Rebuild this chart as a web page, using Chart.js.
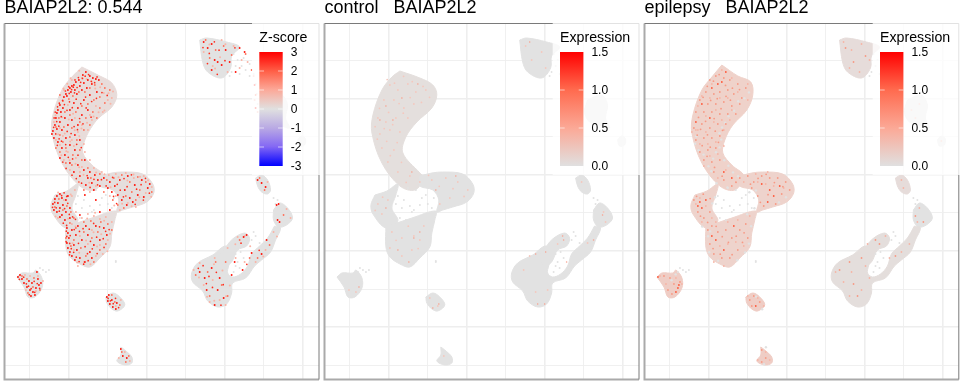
<!DOCTYPE html>
<html>
<head>
<meta charset="utf-8">
<style>
  body { margin: 0; background: #fff; }
  canvas { position: absolute; top: 0; }
</style>
<script src="https://cdn.jsdelivr.net/npm/chart.js"></script>
</head>
<body>
<canvas id="panel1" width="320" height="384" style="left:0"></canvas>
<canvas id="panel2" width="320" height="384" style="left:320px"></canvas>
<canvas id="panel3" width="320" height="384" style="left:640px"></canvas>
<script>
// gridline values on the two UMAP axes
const xMajor = [68.7, 147, 225, 303];
const xMinor = [29.5, 107.7, 186, 264];
const yMajor = [98.3, 174.7, 251, 327];
const yMinor = [60.3, 136, 212.7, 289.3, 365.7];

const zTicks = ['3', '2', '1', '0', '-1', '-2', '-3'];
const exprTicks = ['1.5', '1.0', '0.5', '0.0'];

// outlines of the dense cell clouds
const arcAll = [[82,67],[100,76],[112,83],[117,95],[112,107],[100,117],[93,125],[85,140],[83,153],[92,165],[104,176],[95,190],[80,186],[62,163],[52,133],[53,115],[62,90],[72,77],[82,67]];
const arcCtrl = [[80,71],[100,78],[113,85],[117,95],[112,108],[97,122],[86,137],[83,153],[100,173],[104,178],[95,190],[80,186],[62,163],[52,133],[53,115],[62,90],[72,77],[80,71]];
const arcEpi = [[82,65],[98,76],[111,82],[113,95],[107,110],[93,125],[85,140],[83,153],[92,165],[104,176],[95,190],[80,186],[62,163],[52,133],[53,115],[62,90],[72,77],[82,65]];
const rightLobe = [[100,176],[112,173],[123,172],[143,174],[153,184],[154,193],[147,202],[133,207],[123,210],[117,212],[119,200],[113,190],[100,186],[100,176]];
const leftLobe = [[55,195],[67,191],[78,184],[76,195],[72,208],[78,221],[66,228],[53,214],[51,205],[55,195]];
const lowerBlob = [[66,226],[80,222],[92,218],[116,211],[115,220],[112,233],[110,247],[100,258],[90,267],[80,264],[70,257],[66,247],[66,226]];
const upperBlob = [[200,40],[207,38],[227,42],[240,47],[232,56],[231,68],[222,78],[208,72],[203,62],[200,40]];
const faintBlob = [[268,100],[282,95],[288,105],[286,118],[290,128],[280,125],[270,122],[265,112],[268,100]];
const tinyBlob = [[298,140],[302,136],[306,139],[305,145],[300,146],[298,140]];
const strandBlob = [[256,178],[262,175],[268,180],[271,190],[268,194],[262,192],[258,186],[256,178]];
const kneeBlob = [[274,210],[280,203],[288,208],[293,218],[287,225],[279,227],[274,220],[274,210]];
const bigBlob = [[275,226],[281,228],[276,240],[271,252],[262,260],[255,266],[246,278],[233,283],[232,293],[227,304],[218,307],[208,301],[203,291],[193,282],[192,273],[198,263],[213,255],[226,246],[231,256],[229,266],[228,273],[233,277],[241,274],[248,266],[252,254],[260,246],[268,238],[275,226]];
const armBlob = [[224,250],[233,239],[245,233],[250,238],[247,246],[238,250],[232,262],[225,266],[220,256],[224,250]];
const leftSmall = [[17,277],[22,273],[33,273],[36,270],[42,278],[42,288],[35,297],[28,297],[24,287],[17,277]];
const midSmall = [[106,297],[113,293],[120,297],[125,305],[118,311],[112,309],[107,303],[106,297]];
const bottomSmall = [[121,347],[125,350],[132,357],[132,363],[125,365],[117,361],[121,355],[121,347]];

// scattered low-density cells
const sparseCells = [[78,196],[84,200],[90,206],[96,190],[102,198],[108,204],[114,198],[88,188],[82,208],[76,204],[94,210],[100,205],[106,195],[112,208],[80,218],[86,220],[92,212],
  [234,54],[238,60],[242,66],[246,70],[236,66],[232,72],[244,58],[250,64],[254,74],[256,84],[257,94],[258,104],[250,76],[240,74],[230,76],
  [234,272],[238,262],[236,266],[240,268],[244,258],[236,254],[241,252],[252,240],[256,236],[260,243],[254,232],
  [40,268],[43,270],[46,272],[49,270],[38,272],[116,261],[116,262],[278,200],[276,204],[274,198]];

// Z-score panel, cells grouped by level
const zHigh = [[66,94],[68,90],[70,88],[72,86],[67,96],[64,97],[71,92],[74,85],[76,82],[79,80],[83,75],[86,72],[90,76],[93,78],[96,79],[99,80],[88,80],[84,83],[80,86],[75,90],[77,94],[82,90],[87,88],[92,84],[60,105],[58,110],[57,113],[56,118],[61,112],[63,108],[55,125],[53,131],[52,134],[54,138],[57,129],[60,122],[65,118],[70,110],[74,103],[78,108],[84,100],[90,95],[97,92],[62,130],[66,138],[58,142],[62,148],[68,125],[72,120],[78,125],[82,115],[88,110],[75,135],[70,145],[65,155],[75,150],[80,140],[60,158],[70,163],[78,165],[74,172],[80,176],[84,170],[90,172],[85,160],[95,175],[88,178],[92,183],[98,180],[104,178],[110,182],[100,186],[108,188],[86,185],[94,190],
  [120,180],[128,176],[135,185],[142,180],[148,188],[125,190],[118,195],[130,198],[122,200],[138,195],[144,197],[115,186],[112,192],[150,184],[127,205],[133,202],
  [53,204],[55,199],[57,196],[60,194],[62,198],[58,203],[54,210],[57,212],[60,208],[63,205],[66,200],[68,196],[62,215],[66,212],[70,208],[65,220],[60,217],[70,218],[85,195],[96,200],[110,210],[80,215],[100,212],
  [67,228],[68,233],[69,238],[67,243],[68,248],[70,252],[72,256],[74,245],[77,250],[80,258],[85,262],[76,235],[82,240],[88,235],[94,245],[100,240],[90,252],[104,228],[96,226],[86,226],[78,226],[72,230],[75,260],[92,258],[107,235],
  [18,277],[20,275],[22,279],[24,283],[27,287],[30,290],[33,292],[36,288],[39,285],[41,283],[38,279],[32,283],[29,281],[35,295],[31,296],[37,272],
  [107,297],[108,301],[110,304],[113,307],[116,309],[112,300],[117,303],[109,295],[121,349],[123,356],[127,358],
  [200,272],[205,278],[212,268],[220,278],[218,290],[224,298],[215,305],[207,290],[235,262],[243,270],[252,253],[262,254],[278,220],[280,222],[277,205],[279,204],[267,240],[247,235],[244,237],[232,275],
  [204,42],[208,48],[212,44],[218,62],[222,65],[215,60],[226,50],[230,62],[236,72],[240,48],[245,52],[255,85],[256,108],[212,70],[258,180],[262,183],[266,187]];
const zStrong = [[65.5,91],[69.3,93.4],[71.7,89.6],[73.4,87.2],[68.8,86.7],[74.6,92.8],[77.2,87.5],[80.8,82.3],[82.6,78.4],[85.3,76.2],[88.7,74.6],[91.4,81.3],[94.8,82.7],[97.2,76.9],[78.5,77.6],[75.1,79.9],[62.7,100.4],[59.4,103.2],[57.6,106.8],[55.3,112.1],[54.2,117.9],[56.8,121.6],[53.7,127.3],[58.9,126.2],[61.3,116.7],[64.5,104.6],[67.1,110.3],[69.6,101.8],[72.4,107.7],[76.3,99.2],[80.9,103.7],[85.7,97.1],[91.8,101.5],[96.6,98.3],[102.1,92.6],[107.4,95.4],[86.3,107.9],[79.7,118.5],[74.2,126.6],[67.3,131.4],[59.2,138.8],[55.8,133.9],[57.4,145.3],[61.6,141.2],[65.8,144.6],[71.2,133.5],[77.6,129.7],[83.1,123.8],[91.2,117.2],[68.4,157.3],[62.9,162.1],[72.7,158.9],[78.1,155.2],[76.8,144.3],[81.4,147.6],[66.2,168.4],[72.1,175.2],[76.4,178.6],[81.7,183.2],[87.3,175.6],[94.1,179.3],[90.2,187.4],[97.7,184.8],[101.6,179.7],[106.3,185.9],[112.8,177.4],[117.4,184.3],[124.2,178.6],[131.6,174.8],[127.3,186.7],[136.8,189.2],[141.3,184.7],[145.7,178.3],[149.6,193.2],[143.6,200.1],[135.4,204.3],[123.6,196.8],[116.8,203.6],[120.4,190.2],[113.7,196.3],[52.6,207.3],[54.8,202.4],[56.3,207.8],[59.4,211.2],[61.7,195.6],[64.2,192.8],[66.8,196.4],[64.7,208.6],[67.9,203.3],[69.4,214.4],[72.7,216.8],[63.4,223.2],[66.7,225.4],[75.6,219.3],
  [66.4,231.2],[66.9,236.4],[70.3,235.6],[66.2,241.7],[69.8,243.4],[71.4,248.7],[69.6,254.8],[73.8,252.3],[76.4,257.2],[79.2,261.6],[83.8,264.2],[88.3,260.7],[74.3,229.6],[79.6,231.4],[83.2,228.7],[89.4,229.2],[93.8,223.4],[99.7,226.8],[105.8,231.3],[109.3,229.6],[103.4,238.7],[96.8,237.2],[90.6,241.3],[85.2,246.7],[78.6,243.3],[92.4,248.8],[97.3,253.6],[104.2,247.4],[87.6,253.7],
  [19.4,279.3],[23.7,277.2],[26.4,283.8],[28.6,286.2],[34.2,281.3],[37.3,283.6],[39.7,288.4],[31.2,288.7],[34.8,292.3],[29.3,294.7],[108.3,298.4],[110.6,300.8],[113.4,303.7],[115.7,298.3],[118.8,307.6],
  [198.6,268.3],[203.4,265.7],[209.3,276.4],[216.7,272.3],[223.6,284.7],[212.8,287.4],[221.3,305.2],[206.7,283.6],[241.4,243.2],[247.2,264.3],[259.6,250.3],[203.3,47.6],[209.6,53.4],[214.7,41.8],[219.4,50.2],[225.3,60.7],[207.8,63.6],[217.6,74.3],[235.3,47.8]];
const zMid = [[60,95],[63,101],[69,99],[73,96],[79,92],[85,92],[90,88],[95,85],[102,84],[105,88],[110,90],[100,97],[94,100],[88,104],[82,106],[76,112],[70,115],[65,112],[59,118],[56,127],[60,135],[64,127],[72,128],[80,122],[86,118],[93,112],[100,108],[105,103],[97,118],[90,125],[84,130],[77,140],[70,137],[63,142],[56,148],[60,152],[66,148],[73,155],[80,150],[72,165],[66,163],[82,160],[88,168],[79,182],[84,190],[91,178],[100,174],[107,180],[114,178],[122,175],[130,182],[138,177],[146,182],[152,192],[140,190],[132,192],[126,196],[118,205],[124,208],[113,200],[136,200],[104,192],[55,207],[59,199],[63,210],[67,206],[71,212],[74,218],[70,223],[76,228],[84,222],[91,221],[101,222],[108,224],[112,230],[106,244],[100,250],[94,262],[86,256],[81,248],[74,240],[84,232],[92,238],[98,232],[71,246],[66,238],[22,276],[27,279],[34,278],[40,290],[33,287],[28,293],[112,295],[115,302],[120,305],[122,352],[126,362],[129,356],[196,275],[208,272],[216,262],[226,262],[210,296],[222,285],[228,296],[240,240],[250,258],[258,258],[270,245],[284,215],[206,40],[216,50],[224,46],[232,55],[210,58],[246,54],[252,70],[256,95],[260,178],[265,190]];
const zLow = [[64,90],[72,80],[82,78],[92,82],[104,93],[112,98],[108,100],[103,112],[96,106],[90,115],[82,125],[75,118],[68,105],[60,128],[54,122],[56,140],[63,136],[72,140],[78,132],[84,144],[88,130],[92,120],[74,146],[68,152],[60,145],[64,160],[70,170],[76,158],[82,167],[90,160],[94,168],[85,152],[80,172],[102,172],[109,175],[116,174],[126,173],[134,178],[144,176],[152,187],[146,193],[136,207],[128,203],[120,210],[116,196],[110,196],[96,186],[90,192],[75,190],[72,196],[58,218],[64,200],[76,212],[82,218],[88,214],[94,216],[100,219],[106,217],[112,222],[108,240],[103,254],[96,256],[88,244],[80,236],[74,250],[72,224],[92,230],[84,262],[78,266],[100,245],[25,275],[30,276],[38,276],[43,281],[26,290],[36,291],[121,300],[116,306],[119,358],[125,352],[130,361],[194,270],[200,263],[215,258],[228,248],[238,237],[245,236],[204,285],[213,280],[220,300],[226,305],[210,302],[236,258],[245,262],[256,262],[266,250],[274,232],[287,209],[291,218],[204,52],[213,66],[222,40],[234,46],[242,60],[248,62],[254,76],[255,100],[258,112],[240,68],[228,72],[268,182],
  [63.6,88.4],[67.4,83.7],[70.6,78.3],[79.4,70.8],[86.7,79.1],[95.4,88.6],[100.3,87.2],[108.6,93.2],[113.2,91.6],[110.7,103.8],[104.6,110.4],[98.7,112.2],[93.7,116.6],[87.2,122.7],[81.6,128.4],[79.4,136.3],[73.2,113.7],[68.9,119.6],[62.4,117.3],[55.6,115.2],[58.3,134.2],[64.8,133.4],[70.2,141.6],[74.8,130.3],[66.4,151.2],[61.4,155.3],[69.7,160.2],[75.6,163.7],[79.3,167.2],[83.6,174.8],[89.4,182.7],[96.3,172.6],[104.7,174.3],[110.8,187.3],[118.7,177.3],[127.6,180.4],[133.7,174.6],[140.2,176.8],[148.3,180.2],[151.4,196.7],[139.6,197.2],[131.8,206.2],[122.3,203.8],[114.4,205.4],[58.2,192.6],[70.8,194.4],[55.6,216.4],[68.3,218.7],[75.7,226.4],[87.3,218.6],[95.2,212.7],[104.3,220.7],[110.2,233.8],[101.4,234.2],[93.7,232.3],[86.2,240.4],[79.3,252.8],[72.6,243.2],[97.2,246.4],[107.6,251.3],[90.6,264.2],[77.3,262.4],[214.3,264.2],[222.8,270.6],[199.3,277.4],[207.4,296.8],[214.6,300.7],[230.2,285.6],[226.4,296.2],[235.7,244.2],[250.6,246.3],[263.7,256.4],[277.4,236.4],[209.7,44.6],[220.4,57.3],[225.7,44.3],[215.4,68.4]];

// control panel expression
const ctrlLow = [[70,85],[78,90],[88,84],[96,92],[106,90],[64,100],[74,100],[84,108],[94,104],[58,118],[66,122],[76,118],[88,118],[60,134],[70,130],[80,132],[62,148],[74,150],[68,162],[78,172],[90,176],[100,182],[112,180],[126,178],[138,182],[148,190],[130,198],[120,204],[58,204],[62,214],[68,200],[72,232],[82,238],[94,236],[104,226],[70,248],[82,256],[92,250],[100,240],[206,46],[212,60],[222,52],[226,68],[210,256],[204,270],[216,292],[228,290],[238,244],[268,243],[284,212],[286,222],[29,290],[36,292],[110,298],[118,306],[124,356],[262,182],
  [67.3,79.6],[74.6,83.2],[83.7,76.3],[92.4,81.7],[103.2,86.4],[109.7,97.3],[101.6,102.4],[90.3,97.6],[79.2,103.6],[68.7,112.4],[59.6,108.3],[55.2,126.7],[64.3,128.6],[72.8,124.7],[83.4,113.2],[66.8,141.3],[57.4,139.2],[77.3,142.6],[70.4,155.7],[81.6,162.3],[86.3,182.4],[108.7,175.3],[119.4,186.3],[133.2,188.7],[144.3,196.4],[62.7,197.2],[55.3,210.4],[76.2,240.3],[88.4,226.2],[98.3,248.6]];
const ctrlMid = [[66,106],[73,120],[82,98],[60,120],[92,172],[116,190],[136,176],[66,208],[100,232],[78,250],[89,262],[94,238],[216,254],[226,252],[243,236],[244,240],[225,304],[218,304],[247,262],[274,240],[283,215],[39,287],[119,304],[113,308],[210,42],[98,84]];

// epilepsy panel expression
const epiHigh = [[82,82],[78,84],[72,88],[86,72],[62,104],[56,122],[70,118],[66,200],[60,202],[62,208],[58,206],[122,184],[130,190],[134,196],[128,202],[140,186],[92,178],[84,172],[76,240],[84,250],[72,236],[94,226],[38,288],[39,285],[36,292],[18,277],[116,306]];
const epiMid = [[70,80],[76,76],[84,78],[90,80],[98,84],[106,88],[66,92],[74,94],[80,92],[88,90],[94,94],[102,98],[60,100],[68,104],[76,104],[84,102],[92,106],[100,104],[56,112],[64,112],[72,112],[80,114],[88,114],[96,114],[54,128],[62,124],[70,128],[78,124],[86,124],[56,140],[64,138],[72,138],[80,136],[60,152],[68,150],[76,148],[64,160],[72,162],[80,160],[74,172],[84,180],[92,186],[100,178],[108,176],[114,182],[122,176],[130,178],[138,178],[146,182],[150,190],[142,194],[136,204],[124,206],[118,196],[112,188],[54,200],[58,212],[64,218],[70,212],[72,226],[68,230],[70,244],[78,232],[86,230],[92,238],[100,230],[106,224],[108,238],[98,250],[90,258],[82,258],[74,254],[24,276],[30,278],[34,284],[28,290],[40,282],[32,294],[110,300],[114,296],[120,302],[112,306],[122,350],[126,358],[122,362],[200,270],[210,262],[222,258],[214,284],[218,296],[240,244],[236,240],[256,256],[206,48],[214,62],[226,56],[276,216],[284,222],
  [67.4,86.3],[73.6,81.2],[79.3,74.6],[85.7,85.4],[92.6,88.2],[99.7,89.6],[63.2,97.3],[70.8,100.4],[77.4,98.7],[86.2,96.3],[58.6,117.4],[65.7,121.3],[74.3,118.6],[81.2,108.7],[90.6,100.2],[57.3,135.2],[60.7,129.3],[67.6,134.8],[75.4,131.2],[82.7,130.3],[62.3,145.7],[70.4,147.2],[78.6,142.3],[67.2,156.3],[74.7,167.4],[82.3,176.2],[96.2,182.3],[110.7,184.2],[118.3,178.4],[126.4,174.3],[134.7,182.6],[143.2,186.7],[128.3,194.7],[120.6,202.3],[56.7,196.3],[63.4,194.2],[70.3,198.6],[60.6,216.2],[67.8,222.4],[76.3,226.3],[82.4,236.7],[88.6,242.3],[96.4,236.2],[104.3,232.8],[73.2,248.6],[80.4,254.2],[92.3,254.7],[102.7,242.4]];
const epiLow = [[82,70],[92,78],[108,84],[72,84],[62,96],[80,98],[98,92],[108,100],[70,98],[88,98],[58,106],[52,132],[66,116],[76,110],[92,110],[58,130],[66,132],[74,122],[82,120],[90,120],[60,144],[68,144],[76,142],[84,130],[56,130],[64,166],[78,154],[70,156],[84,146],[78,178],[86,170],[96,182],[104,182],[118,182],[126,184],[134,186],[144,188],[128,172],[116,174],[60,198],[56,204],[66,206],[72,218],[62,222],[76,222],[88,222],[98,220],[110,216],[74,262],[80,246],[88,244],[96,242],[104,246],[84,266],[20,276],[26,284],[36,278],[42,284],[108,296],[118,298],[124,306],[126,352],[130,360],[118,360],[196,272],[204,282],[212,272],[226,266],[230,278],[222,290],[210,296],[228,244],[246,236],[250,258],[262,252],[270,244],[204,42],[212,50],[222,44],[230,60],[210,68],[220,72],[262,180],[264,188],[280,208],[278,222],[302,141],[272,110],[280,104],[276,118]];
const epiGrey = [[98.4,101.2],[104.6,98.3],[109.2,92.4],[94.3,110.7],[88.7,116.2],[85.3,122.6],[82.2,127.4],[79.6,133.2],[81.4,139.6],[76.2,152.3],[79.7,147.4],[73.3,158.6],[68.6,166.3],[63.7,154.6],[56.4,136.3],[55.2,143.7],[58.7,150.3],[84.4,160.2],[88.6,165.7],[93.2,172.4],[98.3,176.2],[71.4,171.3],[76.7,183.2],[87.6,187.4],[109.6,192.3],[116.2,190.4],[146.3,197.2],[139.3,202.4],[114.7,208.3],[72.4,203.4],[75.2,197.3],[62.3,226.6],[70.3,231.4],[107.4,214.3],[111.4,226.3],[109.2,243.6],[105.3,252.4],[97.4,260.2],[68.2,236.2],[69.4,252.3],[78.3,260.7],[35.7,274.4],[31.6,280.2],[116.3,296.6],[122.4,309.2],[126.2,347.3],[124.3,364.2]];

const GREY = '#e2e2e2';

function blob(points, color) {
  return { data: points.map(p => ({ x: p[0], y: p[1] })), showLine: true, fill: 'shape', tension: 0.35,
    backgroundColor: color, borderColor: color, borderWidth: 1, pointRadius: 0 };
}
function dots(points, color, r) {
  return { data: points.map(p => ({ x: p[0], y: p[1] })), showLine: false,
    backgroundColor: color, pointRadius: r, pointBorderWidth: 0, pointHoverRadius: 0 };
}
function baseBlobs(arc, tint) {
  let t = tint || {};
  return [
    blob(faintBlob, GREY), blob(tinyBlob, GREY), blob(upperBlob, t.upper || GREY),
    blob(strandBlob, t.upper || GREY), blob(kneeBlob, GREY), blob(bigBlob, t.big || GREY), blob(armBlob, t.big || GREY),
    blob(arc, t.arc || GREY), blob(rightLobe, t.center || GREY), blob(leftLobe, t.center || GREY), blob(lowerBlob, t.center || GREY),
    blob(leftSmall, t.small || GREY), blob(midSmall, t.small || GREY), blob(bottomSmall, t.small || GREY),
    dots(sparseCells, GREY, 1)
  ];
}

// panel box and the colourbar legend on top of the points
const panelDecor = {
  id: 'panelDecor',
  afterDatasetsDraw(chart, args, opts) {
    const c = chart.ctx, a = chart.chartArea;
    c.save();
    c.strokeStyle = '#aaaaaa'; c.lineWidth = 2;
    c.beginPath(); c.moveTo(a.left, a.top); c.lineTo(a.left, a.bottom); c.lineTo(a.right, a.bottom); c.stroke();
    c.strokeStyle = '#7a7a7a'; c.lineWidth = 1;
    c.beginPath(); c.moveTo(a.left, a.top); c.lineTo(a.right, a.top); c.lineTo(a.right, a.bottom); c.stroke();

    c.fillStyle = 'rgba(255,255,255,0.78)';
    c.fillRect(opts.boxLeft, a.top - 1, 320 - opts.boxLeft, 175 - a.top + 1);

    const top = 52, bottom = 166, left = opts.barLeft, w = 23.4;
    const g = c.createLinearGradient(0, top, 0, bottom);
    opts.stops.forEach(s => g.addColorStop(s[0], s[1]));
    c.fillStyle = g;
    c.fillRect(left, top, w, bottom - top);

    c.fillStyle = '#000';
    c.font = '14.2px "Liberation Sans"';
    c.textBaseline = 'middle'; c.textAlign = 'left';
    c.fillText(opts.title, left, 38);
    c.font = '12px "Liberation Sans"';
    c.strokeStyle = '#fff'; c.lineWidth = 0.6;
    opts.labels.forEach((t, i) => {
      const y = top + (bottom - top) * i / (opts.labels.length - 1);
      c.fillStyle = '#000';
      c.fillText(t, left + w + 8, y + 0.5);
      if (i > 0 && i < opts.labels.length - 1) {
        c.beginPath();
        c.moveTo(left, y); c.lineTo(left + 4.7, y);
        c.moveTo(left + w - 4.7, y); c.lineTo(left + w, y);
        c.stroke();
      }
    });
    c.restore();
  }
};

function gridStyle(major) {
  return ctx => major.includes(ctx.tick && ctx.tick.value) ? 1.6 : 0.9;
}

function makePanel(id, title, datasets, legend) {
  new Chart(document.getElementById(id), {
    type: 'scatter',
    // chart.js paints the first dataset last, so the cells go first
    data: { datasets: datasets.slice().reverse() },
    plugins: [panelDecor],
    options: {
      responsive: false,
      animation: false,
      layout: { padding: { left: 4.5, right: 0.5, bottom: 4.5 } },
      plugins: {
        legend: { display: false },
        tooltip: { enabled: false },
        title: { display: true, text: title, align: 'start', color: '#000',
          font: { family: '"Liberation Sans"', size: 18, weight: 'normal', lineHeight: 0.9 },
          padding: { top: 0, bottom: 7.3 } },
        panelDecor: legend
      },
      scales: {
        x: { type: 'linear', min: 4.5, max: 319.5, border: { display: false },
          afterBuildTicks: s => { s.ticks = xMajor.concat(xMinor).map(v => ({ value: v })); },
          ticks: { display: false },
          grid: { color: '#eeeeee', drawTicks: false, lineWidth: gridStyle(xMajor) } },
        y: { type: 'linear', reverse: true, min: 23.5, max: 379.5, border: { display: false },
          afterBuildTicks: s => { s.ticks = yMajor.concat(yMinor).map(v => ({ value: v })); },
          ticks: { display: false },
          grid: { color: '#eeeeee', drawTicks: false, lineWidth: gridStyle(yMajor) } }
      }
    }
  });
}

const zStops = [[0, '#ff0000'], [0.17, '#ff6048'], [0.33, '#fca898'], [0.5, '#e0e0e0'], [0.67, '#b8a8e4'], [0.83, '#8468f4'], [1, '#0000ff']];
const exprStops = [[0, '#ff0000'], [0.33, '#ff6a4e'], [0.67, '#fba997'], [1, '#e0e0e0']];

makePanel('panel1', 'BAIAP2L2: 0.544',
  baseBlobs(arcAll, { arc: '#e8dcda', center: '#e5dedd' }).concat([
    dots(zLow, '#f9b4a6', 1), dots(zMid, '#ff7059', 0.9), dots(zStrong, '#ff2c1c', 0.85), dots(zHigh, '#ff1208', 0.95)
  ]),
  { title: 'Z-score', boxLeft: 252, barLeft: 259.3, stops: zStops, labels: zTicks });

makePanel('panel2', 'control   BAIAP2L2',
  baseBlobs(arcCtrl, { arc: '#e4dfdd' }).concat([
    dots(ctrlLow, '#f4c8be', 0.9), dots(ctrlMid, '#f9a18e', 0.8)
  ]),
  { title: 'Expression', boxLeft: 232.7, barLeft: 240, stops: exprStops, labels: exprTicks });

makePanel('panel3', 'epilepsy   BAIAP2L2',
  baseBlobs(arcEpi, { arc: '#efd2ca', center: '#eed3cc', small: '#efcdc5', upper: '#e6dcda', big: '#e4dedc' }).concat([
    dots(epiGrey, '#e2e2e2', 1.2), dots(epiLow, '#f6b5a6', 0.9), dots(epiMid, '#f79a85', 0.9), dots(epiHigh, '#ff5a3c', 0.9)
  ]),
  { title: 'Expression', boxLeft: 232.7, barLeft: 240, stops: exprStops, labels: exprTicks });
</script>
</body>
</html>
